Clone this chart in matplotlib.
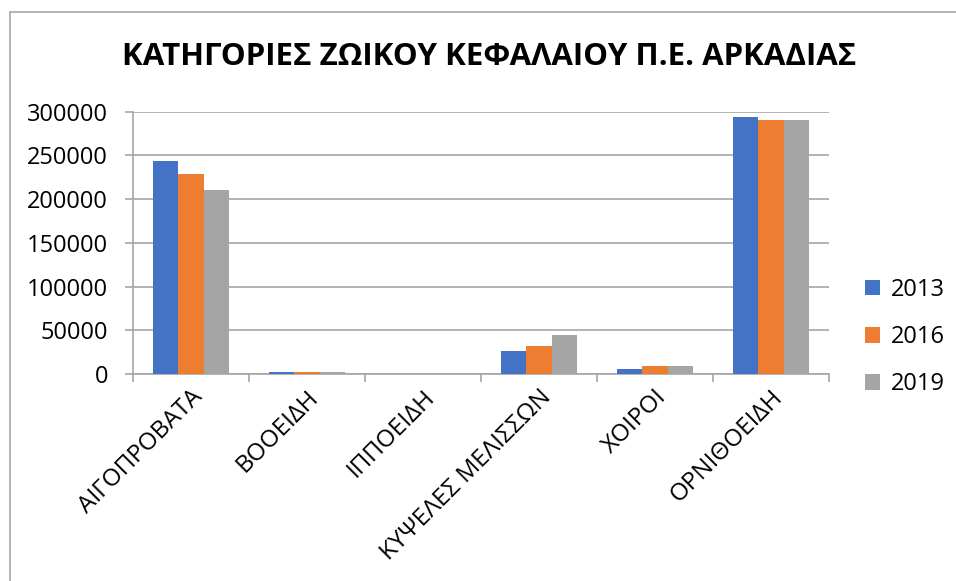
import matplotlib.pyplot as plt
from matplotlib.patches import Rectangle
import numpy as np

plt.rcParams['font.family'] = ['Open Sans', 'DejaVu Sans']

# data
categories = ['ΑΙΓΟΠΡΟΒΑΤΑ', 'ΒΟΟΕΙΔΗ', 'ΙΠΠΟΕΙΔΗ', 'ΚΥΨΕΛΕΣ ΜΕΛΙΣΣΩΝ', 'ΧΟΙΡΟΙ', 'ΟΡΝΙΘΟΕΙΔΗ']
years = ['2013', '2016', '2019']
v2013 = [243800, 2300, 400, 26300, 5400, 294000]
v2016 = [229000, 2600, 400, 31700, 9200, 291000]
v2019 = [211000, 2100, 300, 45000, 8800, 291000]
yticks = [0, 50000, 100000, 150000, 200000, 250000, 300000]

colors = ['#4472C4', '#ED7D31', '#A5A5A5']

fig = plt.figure(figsize=(9.56, 5.81), dpi=100)
ax = fig.add_axes([0.139, 0.3563, 0.728, 0.4514])

# chart frame
fig.patches.append(Rectangle((10 / 956, -0.1), 1.2, 1 - 12 / 581 + 0.1,
                             transform=fig.transFigure, fill=False,
                             edgecolor='#a6a6a6', linewidth=1.2))

x = np.arange(len(categories))
w = 0.22
for i, (vals, yr) in enumerate(zip([v2013, v2016, v2019], years)):
    ax.bar(x + (i - 1) * w, vals, width=w, color=colors[i], label=yr, zorder=3)

ax.set_xlim(-0.5, len(categories) - 0.5)
ax.set_ylim(0, 300000)
ax.set_yticks(yticks)
ax.set_yticklabels([str(t) for t in yticks], fontsize=17)
ax.yaxis.grid(True, color='#a6a6a6', linewidth=1.2, zorder=0)

ax.set_xticks(x)
ax.set_xticklabels(categories, rotation=45, ha='right', rotation_mode='anchor', fontsize=17.5)
ax.tick_params(axis='x', length=0, pad=8)
ax.set_xticks(np.arange(-0.5, len(categories)), minor=True)
ax.tick_params(axis='x', which='minor', length=6, color='#a6a6a6', width=1.2)
ax.tick_params(axis='y', length=6, color='#a6a6a6', width=1.2, pad=12)

for s in ['top', 'right']:
    ax.spines[s].set_visible(False)
for s in ['left', 'bottom']:
    ax.spines[s].set_color('#a6a6a6')
    ax.spines[s].set_linewidth(1.2)

fig.text(0.512, 0.902, 'ΚΑΤΗΓΟΡΙΕΣ ΖΩΙΚΟΥ ΚΕΦΑΛΑΙΟΥ Π.Ε. ΑΡΚΑΔΙΑΣ',
         ha='center', va='center', fontsize=22.5, fontweight='bold')

leg = ax.legend(loc='center left', bbox_to_anchor=(1.022, 0.14), frameon=False,
                fontsize=17, handlelength=0.62, handleheight=0.62,
                labelspacing=0.98, handletextpad=0.45)

fig.savefig('out.png', dpi=100, facecolor='white')
